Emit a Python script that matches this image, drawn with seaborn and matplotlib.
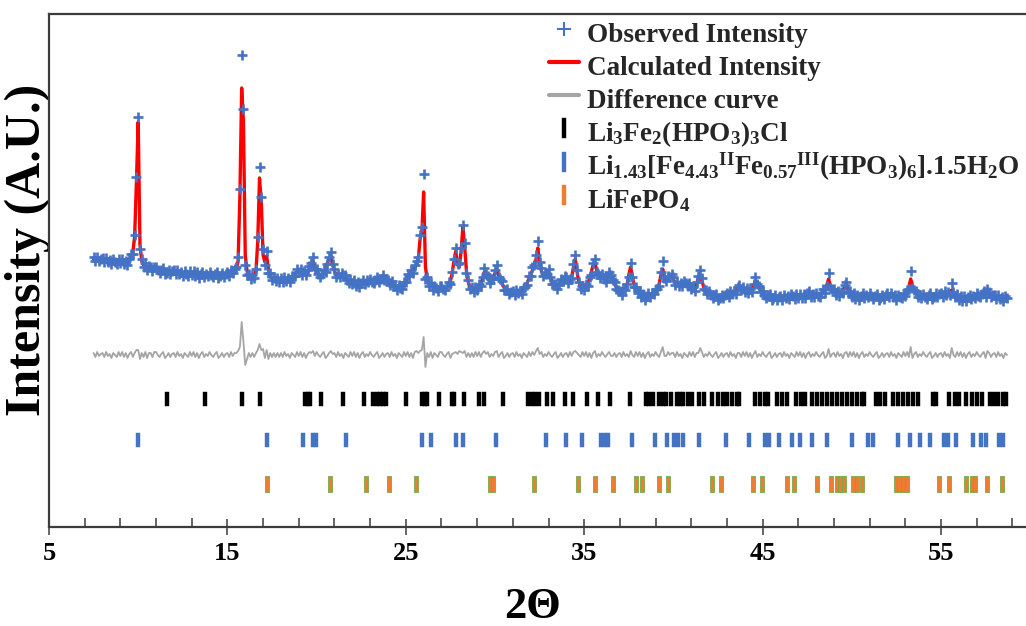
import numpy as np
import matplotlib
matplotlib.use("Agg")
import matplotlib.pyplot as plt
from matplotlib.lines import Line2D
from matplotlib.path import Path
from matplotlib.ticker import MultipleLocator, NullFormatter
import seaborn as sns

# ---------------- data ----------------
# 2-theta grid of the scan: 7.5 ... 58.7 deg, step 0.1
two_theta = np.round(np.arange(75, 588) / 10.0, 1)

# calculated (Rietveld) intensity, arbitrary units, one row per degree
calc_int = [
    268, 268, 267, 267, 267,                                   # 7.5-7.9
    267, 267, 266, 266, 266, 266, 266, 265, 265, 265,          # 8
    265, 265, 265, 264, 265, 267, 270, 275, 290, 345,          # 9
    405, 282, 266, 262, 261, 260, 259, 258, 258, 257,          # 10
    257, 257, 256, 256, 256, 256, 255, 255, 255, 255,          # 11
    255, 255, 254, 254, 254, 254, 254, 253, 253, 253,          # 12
    253, 253, 253, 253, 252, 252, 252, 252, 252, 252,          # 13
    252, 252, 252, 252, 252, 252, 252, 252, 252, 252,          # 14
    253, 253, 254, 255, 256, 258, 266, 330, 439, 405,          # 15
    272, 256, 251, 250, 250, 251, 256, 285, 349, 325,          # 16
    272, 265, 271, 258, 252, 249, 248, 248, 247, 247,          # 17
    247, 247, 247, 247, 248, 248, 249, 251, 253, 255,          # 18
    256, 255, 254, 254, 255, 256, 258, 262, 266, 259,          # 19
    255, 253, 252, 252, 254, 258, 264, 268, 271, 262,          # 20
    256, 252, 250, 251, 253, 254, 250, 247, 246, 245,          # 21
    244, 244, 243, 243, 243, 243, 244, 245, 246, 246,          # 22
    245, 245, 246, 246, 247, 248, 249, 250, 249, 247,          # 23
    245, 244, 243, 242, 241, 240, 240, 239, 240, 242,          # 24
    246, 250, 253, 255, 257, 259, 262, 268, 288, 295,          # 25
    335, 260, 248, 243, 241, 240, 239, 239, 238, 238,          # 26
    238, 238, 239, 240, 242, 246, 254, 266, 276, 262,          # 27
    260, 276, 300, 280, 256, 245, 240, 238, 237, 237,          # 28
    238, 240, 243, 248, 255, 252, 248, 246, 247, 249,          # 29
    254, 258, 252, 247, 243, 240, 238, 236, 235, 234,          # 30
    234, 234, 234, 235, 235, 236, 238, 240, 244, 248,          # 31
    252, 257, 262, 268, 279, 264, 256, 253, 252, 254,          # 32
    255, 250, 245, 242, 240, 241, 243, 246, 248, 250,          # 33
    248, 246, 245, 250, 260, 268, 255, 245, 240, 238,          # 34
    238, 240, 243, 248, 255, 262, 264, 257, 252, 250,          # 35
    250, 248, 247, 249, 252, 253, 248, 243, 240, 236,          # 36
    234, 234, 236, 238, 242, 252, 260, 250, 242, 237,          # 37
    235, 233, 232, 231, 230, 230, 231, 232, 233, 234,          # 38
    235, 238, 243, 252, 258, 250, 247, 248, 250, 251,          # 39
    248, 244, 242, 242, 243, 244, 244, 244, 243, 241,          # 40
    239, 237, 238, 243, 249, 250, 246, 240, 236, 234,          # 41
    233, 232, 231, 231, 230, 230, 230, 230, 231, 231,          # 42
    232, 232, 233, 234, 235, 236, 238, 240, 239, 237,          # 43
    236, 236, 236, 236, 238, 242, 246, 245, 240, 236,          # 44
    233, 232, 231, 231, 230, 230, 230, 230, 229, 229,          # 45
    229, 229, 229, 230, 230, 231, 231, 231, 230, 230,          # 46
    230, 230, 231, 231, 232, 233, 233, 232, 232, 231,          # 47
    231, 231, 232, 233, 235, 237, 242, 248, 241, 237,          # 48
    236, 234, 233, 232, 234, 237, 240, 242, 237, 233,          # 49
    231, 231, 230, 230, 230, 230, 231, 231, 231, 231,          # 50
    231, 231, 230, 230, 230, 230, 230, 230, 230, 231,          # 51
    232, 232, 231, 231, 231, 230, 230, 230, 231, 231,          # 52
    232, 234, 240, 248, 242, 236, 233, 232, 231, 230,          # 53
    230, 230, 230, 231, 231, 231, 231, 232, 232, 232,          # 54
    232, 232, 233, 233, 234, 235, 237, 235, 232, 230,          # 55
    228, 228, 228, 229, 229, 229, 229, 230, 230, 230,          # 56
    231, 231, 232, 232, 233, 233, 234, 233, 232, 231,          # 57
    230, 230, 229, 229, 229, 229, 229, 229,                    # 58.0-58.7
]

# observed intensity, same grid
obs_int = [
    270, 266, 270, 266, 268,                                   # 7.5-7.9
    269, 265, 269, 265, 267, 263, 268, 265, 263, 268,          # 8
    264, 268, 263, 266, 262, 268, 273, 273, 292, 350,          # 9
    410, 278, 268, 260, 264, 257, 261, 260, 256, 260,          # 10
    260, 257, 254, 257, 259, 253, 254, 257, 253, 256,          # 11
    257, 253, 257, 253, 255, 251, 256, 253, 251, 256,          # 12
    252, 256, 251, 255, 249, 253, 255, 250, 253, 251,          # 13
    255, 252, 250, 253, 255, 249, 251, 254, 250, 253,          # 14
    255, 251, 257, 254, 258, 260, 270, 338, 472, 418,          # 15
    262, 252, 253, 248, 252, 249, 258, 290, 360, 330,          # 16
    278, 262, 276, 254, 254, 247, 250, 246, 249, 245,          # 17
    249, 245, 250, 246, 249, 245, 251, 251, 251, 258,          # 18
    255, 258, 252, 256, 252, 257, 261, 264, 270, 258,          # 19
    258, 253, 250, 253, 257, 255, 263, 270, 275, 263,          # 20
    258, 250, 253, 250, 254, 251, 252, 247, 244, 248,          # 21
    243, 247, 241, 245, 240, 244, 247, 243, 247, 245,          # 22
    248, 245, 244, 247, 250, 245, 248, 252, 247, 248,          # 23
    247, 242, 246, 241, 242, 237, 242, 239, 238, 245,          # 24
    245, 253, 251, 257, 254, 262, 266, 270, 292, 300,          # 25
    353, 248, 250, 241, 244, 237, 241, 239, 236, 241,          # 26
    241, 238, 237, 241, 245, 243, 255, 268, 279, 263,          # 27
    264, 279, 302, 284, 254, 247, 238, 240, 235, 240,          # 28
    237, 243, 241, 250, 259, 253, 251, 244, 248, 248,          # 29
    257, 262, 250, 248, 246, 237, 237, 238, 233, 235,          # 30
    236, 232, 237, 234, 236, 233, 240, 240, 242, 251,          # 31
    251, 260, 262, 272, 286, 265, 259, 251, 253, 253,          # 32
    258, 250, 243, 243, 243, 238, 242, 248, 246, 251,          # 33
    250, 244, 248, 249, 263, 272, 257, 245, 238, 241,          # 34
    237, 243, 241, 250, 252, 264, 268, 255, 253, 249,          # 35
    253, 248, 245, 250, 255, 252, 247, 245, 238, 237,          # 36
    236, 232, 239, 237, 243, 250, 264, 250, 240, 240,          # 37
    234, 236, 230, 233, 227, 231, 234, 230, 234, 233,          # 38
    238, 238, 241, 255, 266, 249, 246, 251, 250, 253,          # 39
    250, 242, 245, 241, 244, 241, 246, 244, 241, 244,          # 40
    238, 240, 236, 245, 251, 257, 249, 238, 237, 233,          # 41
    236, 232, 229, 232, 233, 227, 229, 232, 229, 232,          # 42
    234, 230, 236, 233, 236, 233, 240, 242, 237, 240,          # 43
    235, 239, 234, 238, 235, 243, 250, 243, 241, 235,          # 44
    236, 232, 229, 232, 233, 227, 229, 232, 227, 230,          # 45
    231, 227, 232, 229, 231, 228, 233, 231, 228, 233,          # 46
    229, 233, 229, 233, 229, 234, 236, 230, 233, 230,          # 47
    234, 231, 230, 234, 238, 234, 241, 254, 239, 238,          # 48
    238, 232, 236, 231, 235, 234, 242, 245, 235, 236,          # 49
    230, 234, 228, 232, 227, 231, 234, 229, 232, 230,          # 50
    234, 231, 228, 231, 233, 227, 229, 232, 228, 232,          # 51
    234, 230, 234, 230, 232, 227, 232, 230, 229, 234,          # 52
    231, 237, 238, 256, 239, 237, 236, 230, 232, 229,          # 53
    233, 230, 228, 232, 234, 228, 230, 234, 230, 233,          # 54
    234, 230, 236, 232, 235, 232, 244, 235, 230, 233,          # 55
    227, 231, 226, 231, 226, 230, 232, 228, 231, 229,          # 56
    234, 231, 230, 233, 236, 230, 238, 235, 230, 232,          # 57
    232, 228, 232, 228, 230, 226, 231, 229,                    # 58.0-58.7
]

# Bragg reflection positions (2-theta) of the three phases
refl_li3fe2 = [11.60, 13.74, 15.80, 16.83, 19.35, 19.54, 19.63, 20.23, 21.50, 22.66,
               23.14, 23.37, 23.55, 23.74, 23.89, 25.01, 25.89, 26.08, 26.21, 26.88,
               27.57, 27.70, 28.26, 29.10, 29.38, 30.47, 31.87, 32.06, 32.24, 32.48,
               32.90, 33.27, 33.92, 34.39, 35.14, 35.79, 36.45, 37.57, 38.46, 38.65,
               38.84, 39.21, 39.40, 39.59, 39.85, 40.18, 40.37, 40.52, 40.84, 41.02,
               41.45, 41.72, 42.15, 42.52, 42.76, 42.99, 43.27, 43.55, 43.70, 44.57,
               44.85, 45.13, 45.29, 45.82, 46.07, 46.35, 46.87, 47.13, 47.38, 47.75,
               48.03, 48.31, 48.59, 48.87, 49.15, 49.43, 49.71, 49.99, 50.27, 50.55,
               50.68, 51.36, 51.58, 51.86, 52.33, 52.61, 52.89, 53.17, 53.45, 53.73,
               54.53, 54.72, 55.47, 55.79, 56.03, 56.40, 56.72, 57.00, 57.28, 57.75,
               57.97, 58.21, 58.46, 58.64]
refl_li143 = [9.97, 17.24, 19.22, 19.78, 19.97, 21.65, 25.89, 26.41, 27.81, 28.22,
              30.06, 32.86, 33.96, 34.86, 35.92, 36.17, 36.35, 37.66, 38.97, 39.62,
              40.05, 40.27, 40.52, 41.43, 42.93, 44.24, 45.13, 45.38, 45.94, 46.63,
              47.10, 47.75, 48.63, 49.99, 50.89, 51.17, 52.61, 53.26, 53.82, 54.38,
              55.17, 55.41, 55.85, 56.82, 57.23, 57.52, 58.27, 58.49]
refl_lifepo4 = [17.20, 20.75, 22.77, 24.08, 25.57, 29.72, 29.87, 32.19, 34.63, 35.60,
                36.63, 37.90, 38.22, 39.21, 39.71, 42.15, 42.65, 44.44, 44.95, 46.35,
                46.76, 48.03, 48.82, 49.15, 49.34, 49.56, 50.05, 50.27, 50.55, 52.48,
                52.66, 52.85, 53.08, 54.91, 55.47, 56.40, 56.72, 56.91, 57.56, 58.40]

labels = [
    "Observed Intensity",
    "Calculated Intensity",
    "Difference curve",
    r"Li$_{3}$Fe$_{2}$(HPO$_{3}$)$_{3}$Cl",
    r"Li$_{1.43}$[Fe$_{4.43}$$^{\mathrm{II}}$Fe$_{0.57}$$^{\mathrm{III}}$(HPO$_{3}$)$_{6}$].1.5H$_{2}$O",
    r"LiFePO$_{4}$",
]

assert len(two_theta) == len(calc_int) == len(obs_int)

# ---------------- style ----------------
sns.set_theme(style="white")
plt.rcParams["font.family"] = ["Liberation Serif", "DejaVu Serif"]
plt.rcParams["font.weight"] = "bold"
plt.rcParams["mathtext.fontset"] = "custom"
plt.rcParams["mathtext.rm"] = "Liberation Serif:bold"
plt.rcParams["mathtext.it"] = "Liberation Serif:bold"
plt.rcParams["mathtext.bf"] = "Liberation Serif:bold"

BLUE = "#4472C4"
RED = "#FF0000"
GRAY = "#A5A5A5"
ORANGE = "#ED7D31"
GREEN = "#70AD47"
AXC = "#3C3C3C"

DIFF_OFFSET = 172
ROW_BLACK, ROW_BLUE, ROW_ORANGE = 128, 87, 43


def bar_marker(half_w):
    return Path([(-half_w, -0.5), (half_w, -0.5), (half_w, 0.5), (-half_w, 0.5), (-half_w, -0.5)],
                [Path.MOVETO, Path.LINETO, Path.LINETO, Path.LINETO, Path.CLOSEPOLY])


fig = plt.figure(figsize=(10.26, 6.26), dpi=100)
ax = fig.add_axes([49 / 1026, 1 - 527 / 626, 1 - 49 / 1026, (527 - 14) / 626])

obs = np.array(obs_int, dtype=float)
calc = np.array(calc_int, dtype=float)
diff = obs - calc + DIFF_OFFSET

sns.lineplot(x=two_theta, y=calc, color=RED, linewidth=2.4, ax=ax, zorder=2,
             errorbar=None, estimator=None, sort=False)
sns.scatterplot(x=two_theta, y=obs, marker="+", s=62, color=BLUE, linewidth=1.9,
                ax=ax, zorder=3)
sns.lineplot(x=two_theta, y=diff, color=GRAY, linewidth=1.3, ax=ax, zorder=2,
             errorbar=None, estimator=None, sort=False)

sns.scatterplot(x=refl_li3fe2, y=[ROW_BLACK] * len(refl_li3fe2), marker=bar_marker(0.15),
                s=112, color="black", edgecolor="black", linewidth=0.3, ax=ax, zorder=3)
sns.scatterplot(x=refl_li143, y=[ROW_BLUE] * len(refl_li143), marker=bar_marker(0.12),
                s=112, color=BLUE, edgecolor=BLUE, linewidth=0.3, ax=ax, zorder=3)
sns.scatterplot(x=refl_lifepo4, y=[ROW_ORANGE] * len(refl_lifepo4), marker=bar_marker(0.12),
                s=125, color=ORANGE, edgecolor=GREEN, linewidth=0.6, ax=ax, zorder=3)

ax.set_xlim(5, 5 + (1026 - 49) / 17.84)
ax.set_ylim(0, 513)

# axes / ticks
for side in ["top", "left", "bottom"]:
    ax.spines[side].set_visible(True)
    ax.spines[side].set_color(AXC)
    ax.spines[side].set_linewidth(1.6)
ax.spines["right"].set_visible(False)

ax.xaxis.set_major_locator(MultipleLocator(10, offset=5))
ax.xaxis.set_minor_locator(MultipleLocator(2, offset=1))
ax.xaxis.set_minor_formatter(NullFormatter())
ax.tick_params(axis="x", which="major", bottom=True, top=False, direction="inout",
               length=12, width=1.1, color=AXC, labelsize=19, pad=5, labelcolor="black")
ax.tick_params(axis="x", which="minor", bottom=True, top=False, direction="in",
               length=6.5, width=1.1, color=AXC)
ax.tick_params(axis="y", left=False, right=False, labelleft=False)
for lab in ax.get_xticklabels():
    lab.set_fontweight("bold")

ax.set_xlabel("2Θ", fontsize=32, fontweight="bold", color="black")
ax.xaxis.set_label_coords(0.495, -0.116)
ax.set_ylabel("Intensity (A.U.)", fontsize=36, fontweight="bold", color="black")
ax.yaxis.set_label_coords(0.002, 0.54)

# legend
handles = [
    Line2D([], [], linestyle="none", marker="+", markersize=10, markeredgewidth=1.5, color=BLUE),
    Line2D([], [], color=RED, linewidth=3),
    Line2D([], [], color=GRAY, linewidth=3),
    Line2D([], [], linestyle="none", marker=bar_marker(0.12), markersize=14,
           markerfacecolor="black", markeredgecolor="black", markeredgewidth=0.3),
    Line2D([], [], linestyle="none", marker=bar_marker(0.12), markersize=14,
           markerfacecolor=BLUE, markeredgecolor=BLUE, markeredgewidth=0.3),
    Line2D([], [], linestyle="none", marker=bar_marker(0.12), markersize=14,
           markerfacecolor=ORANGE, markeredgecolor=ORANGE, markeredgewidth=0.3),
]
leg = ax.legend(handles, labels, loc="upper left", bbox_to_anchor=(0.512, 0.995),
                frameon=False, fontsize=19.5, handlelength=1.1, handletextpad=0.3,
                handleheight=1.5, labelspacing=0.0, borderpad=0, borderaxespad=0)
for t in leg.get_texts():
    t.set_fontweight("bold")

fig.savefig("out.png", dpi=100, facecolor="white")
